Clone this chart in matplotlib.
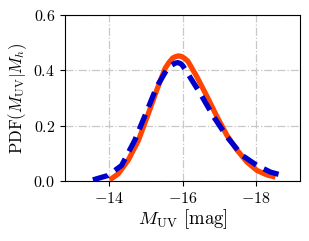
import matplotlib
matplotlib.use("Agg")
import matplotlib.pyplot as plt

plt.rcParams['font.family'] = 'serif'
plt.rcParams['font.serif'] = ['cmr10']
plt.rcParams['mathtext.fontset'] = 'cm'
plt.rcParams['axes.formatter.use_mathtext'] = True

# orange solid curve
muv_a = [-14.02, -14.25, -14.52, -14.80, -15.07, -15.30, -15.53, -15.63, -15.73,
         -15.80, -15.88, -15.95, -16.00, -16.07, -16.15, -16.39, -16.67, -16.94,
         -17.21, -17.49, -17.76, -18.03, -18.30, -18.53]
pdf_a = [0.004, 0.026, 0.075, 0.147, 0.244, 0.329, 0.408, 0.428, 0.444,
         0.449, 0.452, 0.451, 0.448, 0.442, 0.432, 0.377, 0.305, 0.232,
         0.165, 0.111, 0.068, 0.038, 0.022, 0.014]

# blue dashed curve
muv_b = [-13.56, -13.97, -14.34, -14.70, -15.02, -15.30, -15.57, -15.70, -15.80,
         -15.88, -15.95, -16.00, -16.07, -16.48, -16.85, -17.21, -17.62, -18.03,
         -18.40, -18.81]
pdf_b = [0.004, 0.020, 0.056, 0.147, 0.250, 0.341, 0.402, 0.418, 0.426,
         0.428, 0.424, 0.418, 0.404, 0.317, 0.232, 0.160, 0.093, 0.056,
         0.032, 0.017]

xticks = [-14, -16, -18]
yticks = [0.0, 0.2, 0.4, 0.6]

fig = plt.figure(figsize=(3.09, 2.41), dpi=100)
ax = fig.add_axes([65 / 309, 60 / 241, 235 / 309, 166 / 241])

ax.plot(muv_a, pdf_a, color='#ff4500', lw=3.8, solid_capstyle='butt')
ax.plot(muv_b, pdf_b, color='#0000cc', lw=3.8, ls=(0, (3, 1.6)))

ax.set_xlim(-12.8, -19.2)
ax.set_ylim(0, 0.6)
ax.set_xticks(xticks)
ax.set_yticks(yticks)
ax.grid(True, ls='-.', color='#c8c8c8', lw=0.9)
ax.tick_params(labelsize=11.5)
ax.set_xlabel(r'$M_{\rm UV}$ [mag]', fontsize=13.5, labelpad=1)
ax.set_ylabel(r'${\rm PDF}(M_{\rm UV}|M_h)$', fontsize=12, labelpad=3)

fig.savefig('out.png', dpi=100)
